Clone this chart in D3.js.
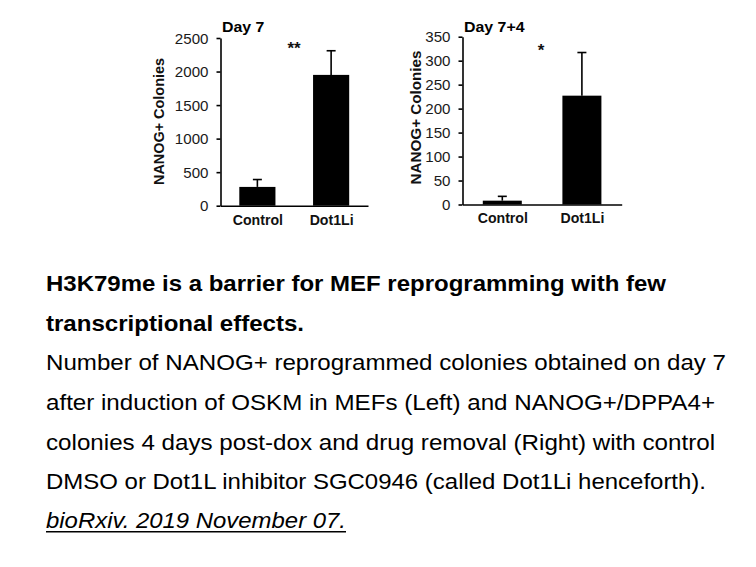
<!DOCTYPE html>
<html>
<head>
<meta charset="utf-8">
<script src="https://cdn.jsdelivr.net/npm/d3@7"></script>
<style>
  html, body { margin: 0; padding: 0; background: #fff; }
  svg { display: block; }
  text { font-family: "Liberation Sans", Arial, sans-serif; }
</style>
</head>
<body>
<svg id="chart" width="756" height="567"></svg>
<script>
// ---- data ----
const categories = ["Control", "Dot1Li"];
const day7Values = [280, 1950];
const day7Errors = [110, 360];
const day74Values = [8, 227];
const day74Errors = [9, 90];
const day7Ticks = [0, 500, 1000, 1500, 2000, 2500];
const day74Ticks = [0, 50, 100, 150, 200, 250, 300, 350];
const panelTitles = ["Day 7", "Day 7+4"];
const significance = ["**", "*"];
const yAxisTitle = "NANOG+ Colonies";
const captionTitle = [
  "H3K79me is a barrier for MEF reprogramming with few",
  "transcriptional effects."
];
const captionBody = [
  "Number of NANOG+ reprogrammed colonies obtained on day 7",
  "after induction of OSKM in MEFs (Left) and NANOG+/DPPA4+",
  "colonies 4 days post-dox and drug removal (Right) with control",
  "DMSO or Dot1L inhibitor SGC0946 (called Dot1Li henceforth)."
];
const citation = "bioRxiv. 2019 November 07.";

const svg = d3.select("#chart");

function stretch(sel, factor) {
  sel.each(function () {
    const w = this.getComputedTextLength();
    d3.select(this).attr("textLength", w * factor).attr("lengthAdjust", "spacingAndGlyphs");
  });
}
function fitTo(sel, width) {
  sel.attr("textLength", width).attr("lengthAdjust", "spacingAndGlyphs");
}

function drawPanel(p) {
  const g = svg.append("g");
  const y = d3.scaleLinear().domain([0, p.max]).range([p.y0, p.y1]);
  const x = d3.scalePoint().domain(categories).range([p.x0, p.x1]).padding(0.5);
  const bw = x.step() * 0.49;

  // bars
  g.selectAll("rect.bar").data(categories).join("rect")
    .attr("class", "bar")
    .attr("x", d => x(d) - bw / 2)
    .attr("y", (d, i) => y(p.values[i]))
    .attr("width", bw)
    .attr("height", (d, i) => y(0) - y(p.values[i]))
    .attr("fill", "#000");

  // error bars
  const eb = g.selectAll("g.err").data(categories).join("g").attr("class", "err");
  eb.append("line")
    .attr("x1", d => x(d)).attr("x2", d => x(d))
    .attr("y1", (d, i) => y(p.values[i]))
    .attr("y2", (d, i) => y(p.values[i] + p.errors[i]))
    .attr("stroke", "#000").attr("stroke-width", 1.6);
  eb.append("line")
    .attr("x1", d => x(d) - 4.5).attr("x2", d => x(d) + 4.5)
    .attr("y1", (d, i) => y(p.values[i] + p.errors[i]))
    .attr("y2", (d, i) => y(p.values[i] + p.errors[i]))
    .attr("stroke", "#000").attr("stroke-width", 1.6);

  // y axis
  const ya = g.append("g")
    .attr("transform", `translate(${p.x0},0)`)
    .call(d3.axisLeft(y).tickValues(p.ticks).tickSize(4).tickSizeOuter(0).tickPadding(8).tickFormat(d3.format("d")));
  ya.select(".domain").attr("stroke", "#000").attr("stroke-width", 1.6);
  ya.selectAll(".tick line").attr("stroke", "#000").attr("stroke-width", 1.6);
  ya.selectAll(".tick text")
    .attr("font-size", 14).attr("fill", "#1a1a1a")
    .attr("font-family", "'Liberation Sans', Arial, sans-serif")
    .attr("dy", "0.36em")
    .call(stretch, 1.08);

  // x axis
  const xa = g.append("g")
    .attr("transform", `translate(0,${y(0)})`)
    .call(d3.axisBottom(x).tickSize(0).tickSizeOuter(0).tickPadding(9));
  xa.select(".domain").attr("stroke", "#000").attr("stroke-width", 1.6);
  xa.selectAll(".tick text")
    .attr("font-size", 14).attr("font-weight", "bold").attr("fill", "#111")
    .attr("font-family", "'Liberation Sans', Arial, sans-serif")
    .call(stretch, 1.01);

  // y title
  const yt = g.append("text")
    .attr("transform", `translate(${p.titleX},${p.titleY}) rotate(-90)`)
    .attr("text-anchor", "middle")
    .attr("dy", "0.35em")
    .attr("font-size", 15).attr("font-weight", "bold").attr("fill", "#111")
    .text(yAxisTitle);
  fitTo(yt, p.titleLen);

  // panel title
  g.append("text")
    .attr("x", p.x0 + 1.5).attr("y", 31.7)
    .attr("font-size", 15).attr("font-weight", "bold").attr("fill", "#000")
    .text(p.title)
    .call(stretch, 1.06);

  // significance
  g.append("text")
    .attr("x", p.sigX).attr("y", p.sigY)
    .attr("text-anchor", "middle")
    .attr("font-size", 17).attr("font-weight", "bold").attr("fill", "#111")
    .text(p.sig);
}

drawPanel({
  values: day7Values, errors: day7Errors, ticks: day7Ticks, max: 2500,
  x0: 220.5, x1: 368, y0: 205.7, y1: 38,
  title: panelTitles[0], sig: significance[0], sigX: 294, sigY: 54,
  titleX: 158.5, titleY: 121.5, titleLen: 127
});
drawPanel({
  values: day74Values, errors: day74Errors, ticks: day74Ticks, max: 350,
  x0: 462.5, x1: 621.7, y0: 204.5, y1: 36.7,
  title: panelTitles[1], sig: significance[1], sigX: 541, sigY: 55.5,
  titleX: 416, titleY: 117.5, titleLen: 134
});

// caption
const capX = 46;
const capBase = [291, 330.5, 370, 410, 450, 489.3, 528.3];
const capEnds = [666, 304, 726, 715, 715, 706, 346];
const cap = svg.append("g");
captionTitle.forEach((t, i) => {
  cap.append("text").attr("x", capX).attr("y", capBase[i])
    .attr("font-size", 22).attr("font-weight", "bold").attr("fill", "#000")
    .attr("textLength", capEnds[i] - capX).attr("lengthAdjust", "spacingAndGlyphs")
    .text(t);
});
captionBody.forEach((t, j) => {
  const i = j + captionTitle.length;
  cap.append("text").attr("x", capX).attr("y", capBase[i])
    .attr("font-size", 22).attr("fill", "#000")
    .attr("textLength", capEnds[i] - capX).attr("lengthAdjust", "spacingAndGlyphs")
    .text(t);
});
const ci = captionTitle.length + captionBody.length;
cap.append("text").attr("x", capX).attr("y", capBase[ci])
  .attr("font-size", 22).attr("font-style", "italic").attr("fill", "#000")
  .attr("textLength", capEnds[ci] - capX).attr("lengthAdjust", "spacingAndGlyphs")
  .text(citation);
cap.append("line")
  .attr("x1", capX).attr("x2", capEnds[ci])
  .attr("y1", capBase[ci] + 3.4).attr("y2", capBase[ci] + 3.4)
  .attr("stroke", "#000").attr("stroke-width", 1.4);
</script>
</body>
</html>
